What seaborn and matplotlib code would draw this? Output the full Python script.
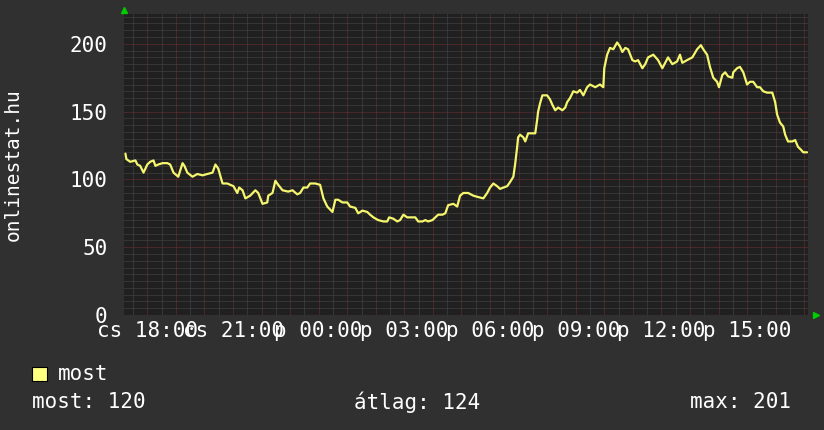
import numpy as np
import pandas as pd
import seaborn as sns
import matplotlib.pyplot as plt
from matplotlib.ticker import MultipleLocator
from matplotlib.patches import Rectangle

# minutes after "cs 18:00" and the visitor count
minutes = [-46, -44, -36, -25, -21, -15, -8, 0, 6, 13, 17, 23, 32, 42, 48, 55, 65, 74, 78, 84,
           95, 105, 116, 126, 137, 143, 149, 158, 168, 181, 189, 193, 200, 206, 216, 227, 233, 242, 252, 254,
           263, 269, 275, 284, 296, 305, 315, 321, 328, 336, 342, 353, 363, 370, 378, 389, 395, 401, 410, 420,
           426, 437, 443, 452, 462, 468, 475, 485, 496, 504, 508, 517, 525, 531, 538, 546, 557, 563, 569, 578,
           584, 590, 599, 605, 611, 620, 626, 632, 643, 651, 657, 664, 674, 685, 695, 706, 714, 720, 727, 735,
           741, 748, 756, 762, 769, 773, 777, 779, 783, 790, 794, 800, 815, 819, 821, 825, 830, 840, 846, 851,
           857, 863, 872, 878, 882, 888, 895, 903, 909, 916, 924, 930, 941, 951, 958, 960, 966, 972, 979, 987,
           993, 998, 1004, 1010, 1019, 1025, 1031, 1040, 1046, 1052, 1063, 1073, 1082, 1088, 1094, 1103, 1113, 1119, 1124, 1134,
           1145, 1155, 1163, 1168, 1176, 1182, 1189, 1197, 1201, 1208, 1214, 1220, 1229, 1231, 1239, 1245, 1252, 1260, 1266, 1273,
           1281, 1287, 1294, 1302, 1313, 1319, 1323, 1329, 1336, 1340, 1346, 1355, 1361, 1367, 1373, 1378, 1386]
visitors = [119, 115, 113, 114, 111, 110, 105, 111, 113, 114, 110, 111, 112, 112, 111, 105, 102, 112, 110, 105,
            102, 104, 103, 104, 105, 111, 108, 97, 97, 95, 90, 94, 92, 86, 88, 92, 90, 82, 83, 88,
            90, 99, 96, 92, 91, 92, 89, 90, 94, 94, 97, 97, 96, 86, 80, 76, 85, 85, 83, 83,
            80, 79, 75, 77, 76, 74, 72, 70, 69, 69, 72, 71, 69, 70, 74, 72, 72, 72, 69, 69,
            70, 69, 70, 72, 74, 74, 75, 81, 82, 80, 88, 90, 90, 88, 87, 86, 90, 94, 97, 95,
            93, 94, 95, 98, 102, 112, 124, 131, 133, 131, 128, 134, 134, 144, 150, 156, 162, 162, 159, 155,
            151, 153, 151, 153, 157, 160, 165, 164, 166, 162, 168, 170, 168, 170, 168, 182, 192, 197, 196, 201,
            198, 194, 197, 196, 188, 187, 188, 182, 185, 190, 192, 188, 182, 186, 190, 185, 187, 192, 186, 188,
            190, 196, 199, 196, 192, 183, 175, 172, 168, 177, 179, 176, 175, 179, 182, 183, 179, 170, 172, 172,
            168, 168, 165, 164, 164, 157, 148, 142, 139, 133, 128, 128, 129, 124, 122, 120, 120]

tick_minutes = [0, 180, 360, 540, 720, 900, 1080, 1260]
tick_labels = ["cs 18:00", "cs 21:00", "p 00:00", "p 03:00", "p 06:00", "p 09:00", "p 12:00", "p 15:00"]
y_ticks = [0, 50, 100, 150, 200]

series_name = "most"
stat_labels = ["most: 120", "átlag: 124", "max: 201"]

df = pd.DataFrame({"minute": minutes, "value": visitors})

BG = "#303030"
PLOT_BG = "#202020"
LINE = "#f6f66e"
TXT = "#ffffff"

sns.set_theme(style="dark")
plt.rcParams["font.family"] = ["DejaVu Sans Mono", "DejaVu Sans"]

fig = plt.figure(figsize=(8.24, 4.30), dpi=100, facecolor=BG)
ax = fig.add_axes([124 / 824, 1 - 315 / 430, 684 / 824, 301 / 430])
ax.set_facecolor(PLOT_BG)

# grid: gray dotted minor, red dotted major (rrdtool look)
ax.xaxis.set_major_locator(MultipleLocator(60))
ax.xaxis.set_minor_locator(MultipleLocator(30))
ax.yaxis.set_major_locator(MultipleLocator(50))
ax.yaxis.set_minor_locator(MultipleLocator(5))
ax.grid(which="minor", color="#4a4a4a", linestyle=(0, (1, 1)), linewidth=0.72)
ax.grid(which="major", color="#703030", linestyle=(0, (1, 1)), linewidth=0.72)
ax.set_axisbelow(True)

sns.lineplot(data=df, x="minute", y="value", ax=ax, color=LINE, linewidth=1.6, legend=False)

ax.set_xlim(-49, 1388)
ax.set_ylim(0, 222)

# time labels every 3 hours (grid stays hourly)
ax.set_xticklabels([])
for m, lab in zip(tick_minutes, tick_labels):
    ax.text(m, -0.02, lab, transform=ax.get_xaxis_transform(), ha="center", va="top",
            color=TXT, fontsize=15)

ax.set_yticks(y_ticks)
ax.set_yticklabels([str(v) for v in y_ticks], color=TXT, fontsize=15)
ax.yaxis.set_minor_locator(MultipleLocator(5))
ax.tick_params(axis="both", which="both", length=0)
ax.tick_params(axis="y", pad=12)

ax.set_xlabel("")
ax.set_ylabel("onlinestat.hu", color=TXT, fontsize=14)
ax.yaxis.set_label_coords(-0.148, 0.5)

for s in ax.spines.values():
    s.set_visible(False)

# green arrows at axis ends
ax.plot([0], [1.013], marker="^", color="#00cc00", markersize=5, transform=ax.transAxes,
        clip_on=False, linestyle="none")
ax.plot([1.012], [0], marker=">", color="#00cc00", markersize=5, transform=ax.transAxes,
        clip_on=False, linestyle="none")

# legend and stats at the bottom
fig.patches.append(Rectangle((32 / 824, 1 - 381 / 430), 15 / 824, 14 / 430, transform=fig.transFigure,
                             facecolor="#ffff80", edgecolor="black", linewidth=0.8))
fig.text(58 / 824, 1 - 374 / 430, series_name, color=TXT, fontsize=15, va="center", ha="left")
fig.text(32 / 824, 1 - 402 / 430, stat_labels[0], color=TXT, fontsize=15, va="center", ha="left")
fig.text(354 / 824, 1 - 402 / 430, stat_labels[1], color=TXT, fontsize=15, va="center", ha="left")
fig.text(791 / 824, 1 - 402 / 430, stat_labels[2], color=TXT, fontsize=15, va="center", ha="right")

fig.savefig("out.png", dpi=100, facecolor=BG)
